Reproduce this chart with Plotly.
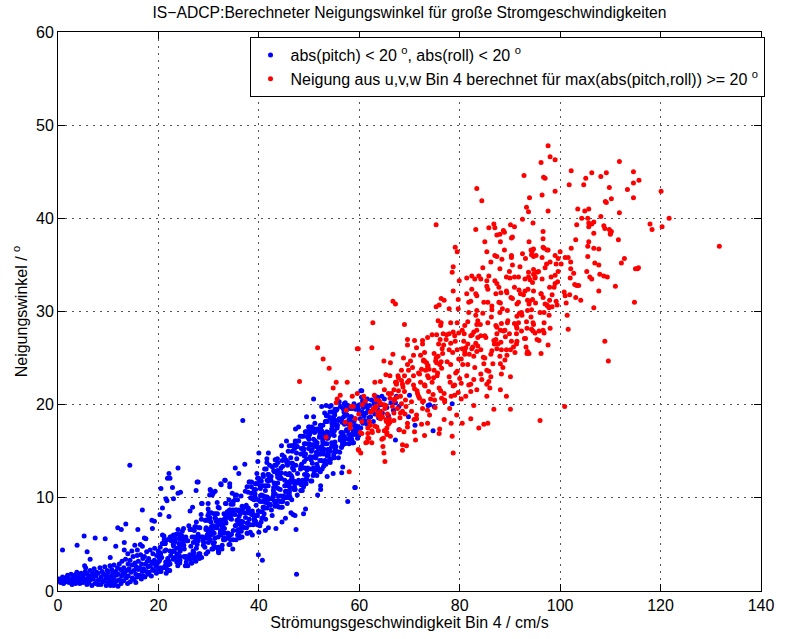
import plotly.graph_objects as go

# ---- blue: |pitch| < 20 and |roll| < 20 (main band) --------------------
blue_band_low = [
    (0.2,1.3),(0.5,0.9),(0.9,1.5),(0.7,1.1),
    (1.1,0.8),(1.3,1.4),(1.6,1.0),(1.9,1.7),(1.7,1.2),
    (2.0,1.5),(2.2,0.9),(2.5,1.2),(2.6,1.8),(2.8,0.7),(2.95,1.4),
    (3.05,1.1),(3.2,1.7),(3.5,0.8),(3.55,1.4),(3.75,2.0),(3.9,1.0),
    (4.05,1.6),(4.3,1.2),(4.35,0.8),(4.6,1.9),(4.8,1.4),(4.95,0.9),
    (5.0,1.7),(5.25,1.0),(5.45,2.1),(5.5,1.3),(5.75,0.7),(5.85,1.8),(5.95,1.2),
    (6.1,1.5),(6.15,0.9),(6.4,2.2),(6.45,1.2),(6.7,1.7),(6.75,0.6),(6.95,1.9),
    (7.0,1.3),(7.2,2.4),(7.35,0.8),(7.55,1.6),(7.7,2.0),(7.85,1.1),(7.95,0.7),
    (8.0,1.9),(8.2,1.2),(8.35,2.5),(8.55,0.7),(8.6,1.5),(8.8,2.1),(8.95,1.0),
    (9.1,1.8),(9.15,1.1),(9.3,2.6),(9.55,1.4),(9.6,0.6),(9.8,2.2),(9.85,1.6),(9.95,0.9),
    (10.0,2.0),(10.2,1.2),(10.35,2.7),(10.45,0.6),(10.65,1.6),(10.7,2.3),(10.85,1.0),(10.95,1.9),
    (11.05,1.4),(11.15,2.8),(11.35,0.8),(11.5,2.1),(11.55,1.7),(11.7,1.1),(11.85,2.5),(11.95,0.5),
    (12.0,1.8),(12.2,2.9),(12.25,1.2),(12.45,2.3),(12.55,0.8),(12.7,1.6),(12.75,3.2),(12.9,2.0),
    (13.05,1.1),(13.1,2.5),(13.3,1.8),(13.45,3.4),(13.6,1.4),(13.7,2.2),(13.85,0.8),(13.95,2.9),
    (14.0,1.6),(14.15,2.4),(14.35,3.3),(14.4,1.0),(14.55,2.0),(14.75,2.8),(14.8,1.4),(14.95,3.7),
    (15.1,2.2),(15.15,1.2),(15.35,3.0),(15.5,1.8),(15.55,2.6),(15.75,3.8),(15.8,1.5),(15.95,2.3),
    (16.0,3.2),(16.2,1.7),(16.25,2.5),(16.45,3.9),(16.6,1.3),(16.65,2.9),(16.8,2.1),(16.9,3.5),(16.95,1.6),
    (17.05,2.4),(17.2,3.7),(17.3,1.5),(17.45,2.9),(17.6,2.1),(17.65,4.2),(17.8,3.2),(17.9,1.8),(17.95,2.6),
    (18.05,3.5),(18.15,2.0),(18.35,4.4),(18.4,2.7),(18.6,1.6),(18.65,3.1),(18.85,2.3),(18.9,4.0),(18.95,3.0),
    (19.05,2.2),(19.2,3.3),(19.25,4.6),(19.45,2.7),(19.6,1.9),(19.65,3.8),(19.8,3.0),(19.85,2.4),(19.95,4.3),
]

blue_band_mid = [
    (20.15,3.2),(20.15,3.6),(20.95,2.5),(20.65,3.6),(20.35,3.6),(20.85,5.1),(20.75,5.1),(20.35,2.5),(20.35,4.7),(20.45,4.0),
    (21.25,4.3),(21.45,3.1),(21.35,5.1),(21.35,2.7),(21.75,5.5),(21.55,1.9),(21.25,5.1),(21.85,3.5),(21.15,5.5),(21.75,2.3),
    (22.65,5.8),(22.35,5.8),(22.95,3.4),(22.75,4.2),(22.15,2.2),(22.55,5.4),(22.25,2.2),(22.95,5.0),(22.45,5.8),(22.45,3.8),
    (23.55,6.1),(23.25,3.6),(23.05,5.3),(23.85,2.7),(23.65,4.0),(23.05,4.8),(23.25,5.7),(23.65,3.1),(23.05,5.7),(23.95,6.1),
    (24.85,5.1),(24.25,6.0),(24.05,3.9),(24.45,6.0),(24.25,4.7),(24.35,4.3),(24.25,3.0),(24.15,5.6),(24.05,5.1),(24.75,6.4),
    (25.85,3.6),(25.15,4.5),(25.85,2.7),(25.85,5.4),(25.55,3.1),(25.35,3.6),(25.35,2.7),(25.65,5.4),(25.45,5.8),(25.05,4.9),
    (26.05,7.0),(26.35,6.6),(26.45,4.8),(26.65,3.0),(26.95,5.2),(26.55,3.0),(26.55,6.6),(26.25,3.9),(26.35,3.4),(26.75,3.9),
    (27.55,4.6),(27.55,7.4),(27.45,3.2),(27.85,3.7),(27.25,6.9),(27.45,6.9),(27.15,3.7),(27.15,6.5),(27.45,5.5),(27.05,4.1),
    (28.85,5.4),(28.15,3.5),(28.25,6.8),(28.05,4.0),(28.95,4.9),(28.85,5.8),(28.25,4.0),(28.6,3.6),(28.55,5.8),(28.55,7.7),
    (29.65,5.7),(29.45,6.6),(29.25,4.7),(29.95,5.7),(29.85,8.1),(29.55,5.7),(29.95,5.2),(29.05,5.2),(29.85,4.2),(29.95,6.6),
    (30.45,6.0),(30.25,7.9),(30.85,4.5),(30.05,8.4),(30.75,6.4),(30.65,6.9),(30.55,8.4),(30.35,5.5),(30.48,6.3),(30.65,4.5),
    (30.2,7.6),(30.45,7.4),(30.55,6.9),
    (31.45,8.3),(31.25,5.7),(31.35,7.8),(31.85,7.3),(31.75,8.3),(31.35,4.7),(31.65,6.8),(31.25,7.8),(31.15,5.2),(31.05,4.7),
    (31.95,4.2),(31.95,4.7),(31.45,6.8),
    (32.65,6.5),(32.85,7.1),(32.65,7.6),(32.95,5.5),(32.35,6.5),(32.65,4.5),(32.3,6.2),(32.85,7.6),(32.15,4.5),(32.45,7.1),
    (32.45,6.0),(32.25,7.6),(32.7,6.9),
    (33.85,5.7),(33.15,6.2),(33.35,9.4),(33.35,7.8),(33.05,8.3),(33.25,7.8),(33.05,5.7),(33.45,9.4),(33.15,6.7),(33.2,5.5),
    (33.75,6.2),(33.75,5.7),(33.45,7.3),
    (34.85,8.7),(34.05,5.0),(34.65,8.2),(34.05,8.2),(34.35,5.5),(34.55,7.7),(34.85,9.3),(34.15,8.7),(34.45,9.3),(34.85,5.5),
    (34.55,6.1),(34.05,9.8),(34.25,5.0),
    (35.95,8.7),(35.25,9.8),(35.25,10.3),(35.25,8.2),(35.45,5.5),(35.95,6.0),(35.75,6.0),(35.55,7.1),(35.65,7.6),(35.35,8.7),
    (35.75,9.8),(35.95,6.6),(35.55,10.3),
    (36.05,7.5),(36.65,5.8),(36.05,6.4),(36.15,7.5),(36.35,5.8),(36.55,7.5),(36.05,8.6),(36.45,10.2),(36.85,6.9),(36.05,8.0),
    (36.65,9.1),(36.55,6.9),(36.2,7.2),
    (37.85,8.4),(37.15,8.4),(37.65,11.2),(37.55,6.8),(37.95,8.4),(37.15,9.0),(37.15,6.8),(37.65,6.2),(37.9,8.9),(37.35,7.9),
    (37.05,9.0),(37.75,7.3),(37.75,6.2),
    (38.35,10.0),(38.55,10.5),(38.55,11.7),(38.5,11.2),(38.15,11.7),(38.55,8.2),(38.05,11.7),(38.25,7.1),(38.85,10.0),(38.15,7.1),
    (38.75,8.2),(38.85,7.1),(38.95,8.2),
    (39.25,10.4),(39.15,7.5),(39.75,12.1),(39.35,7.5),(39.05,9.8),(39.1,7.8),(39.85,9.8),(39.45,11.5),(39.05,10.9),(39.45,9.2),
    (39.65,8.1),(39.35,10.9),(39.95,12.1),
]

blue_band_high = [
    (40.65,8.5),(40.75,9.6),(40.95,10.2),(40.65,11.3),(40.35,10.2),(40.15,11.9),(40.85,10.2),(40.75,10.2),(40.25,11.3),(40.25,9.6),
    (40.85,12.5),(40.15,8.5),(40.3,11.0),(40.95,9.0),(40.85,7.9),(40.85,9.0),(40.45,7.4),(40.6,7.8),
    (41.05,8.3),(41.15,13.1),(41.45,13.1),(41.15,8.9),(41.95,12.5),(41.35,9.5),(41.65,11.9),(41.4,9.8),(41.65,8.9),(41.45,10.1),
    (41.05,11.3),(41.55,11.3),(41.65,10.1),(41.35,7.7),(41.85,11.3),(41.05,8.9),
    (42.15,9.9),(42.95,10.5),(42.9,10.8),(42.65,9.9),(42.95,11.1),(42.25,9.3),(42.45,12.3),(42.35,12.3),(42.15,13.5),(42.05,12.3),
    (42.05,9.3),(42.2,12.0),(42.95,12.9),(42.65,8.1),(42.85,10.2),(42.4,11.9),
    (43.05,9.7),(43.75,12.9),(43.05,11.6),(43.35,14.1),(43.25,9.1),(43.75,9.1),(43.75,12.2),(43.25,14.1),(43.3,9.4),(43.7,12.5),
    (43.75,11.6),(43.25,10.4),(43.85,11.0),(43.65,12.9),(43.45,13.5),(43.15,13.5),
    (44.45,12.7),(44.75,13.4),(44.65,14.6),(44.45,9.0),(44.55,9.6),(44.35,10.2),(44.05,9.0),(44.05,12.1),(44.65,14.0),(44.15,9.6),
    (44.75,9.6),(44.45,12.1),(44.25,10.9),(44.35,12.1),(44.65,9.0),(44.85,10.2),
    (45.55,13.8),(45.85,12.5),(45.7,13.5),(45.15,11.3),(45.45,10.6),(45.75,12.5),(45.35,14.1),(45.85,15.0),(45.65,9.4),(45.95,10.0),
    (45.75,11.3),(45.6,11.6),(45.25,10.0),(45.05,14.4),(45.3,12.6),(45.15,11.9),
    (46.65,15.0),(46.45,12.4),(46.05,15.6),(46.05,10.4),(46.25,11.1),(46.45,15.6),(46.55,11.7),(46.4,11.9),(46.1,10.7),(46.5,13.7),
    (46.6,12.2),(46.95,13.0),(46.8,13.3),(46.35,14.3),(46.2,10.1),(46.55,9.8),(46.75,15.6),
    (47.25,11.6),(47.75,16.1),(47.65,15.5),(47.95,11.6),(47.55,15.5),(47.9,11.9),(47.35,13.5),(47.45,11.6),(47.05,10.9),(47.95,16.1),
    (47.55,14.2),(47.1,11.2),(47.25,10.9),(47.25,16.1),(47.0,11.8),(47.2,15.8),(47.65,10.3),
    (48.85,14.7),(48.45,10.8),(48.35,13.4),(48.45,11.4),(48.8,11.6),(48.55,16.6),(48.9,11.2),(48.35,14.7),(48.25,16.6),(48.75,15.3),
    (48.45,15.3),(48.7,11.9),(48.35,10.8),(48.95,16.6),(48.65,10.8),(48.55,11.4),(48.9,15.1),
    (49.05,15.8),(49.25,11.9),(49.15,13.2),(49.45,17.1),(49.95,17.1),(49.9,16.8),(49.85,16.5),(49.35,15.8),(49.25,17.1),(49.75,16.5),
    (49.05,13.9),(49.6,13.0),(49.55,12.0),(49.05,14.5),(49.95,15.8),(49.35,12.0),(49.75,13.2),(49.4,11.5),(49.7,12.4),
    (50.25,17.0),(50.15,15.7),(50.05,17.6),(50.65,13.7),(50.1,16.8),(50.55,17.6),(50.55,11.8),(50.25,14.4),(50.45,15.0),(50.95,14.4),
    (50.6,15.2),(50.4,14.1),(50.7,17.4),(50.0,16.3),(50.35,11.8),(50.25,15.7),(50.45,13.1),(50.8,12.4),(50.9,13.2),
    (51.55,13.6),(51.25,14.3),(51.05,17.4),(51.25,15.5),(51.35,14.3),(51.45,14.9),(51.65,17.4),(51.55,12.4),(51.4,15.8),(51.25,16.1),
    (51.15,18.0),(51.35,13.0),(51.1,17.0),(51.85,13.0),(51.7,13.3),(51.05,13.0),(51.0,12.6),
    (52.05,14.7),(52.15,14.0),(52.75,17.8),(52.3,17.5),(52.75,15.9),(52.25,17.8),(52.85,16.5),(52.5,17.2),(52.7,16.2),(52.35,14.7),
    (52.25,12.8),(52.85,14.7),(52.9,13.4),(52.45,14.0),(52.05,16.5),(52.15,16.7),(52.2,17.0),(52.6,13.1),(52.4,15.4),
    (53.75,17.0),(53.65,18.8),(53.15,15.8),(53.75,15.2),(53.05,15.2),(53.55,18.8),(53.85,14.6),(53.55,16.4),(53.45,18.8),(53.05,15.8),
    (53.25,18.2),(53.75,16.4),(53.55,15.8),(53.65,18.2),(53.7,14.8),(53.15,14.0),(53.35,13.6),(53.9,14.0),
    (54.55,19.2),(54.5,17.4),(54.25,18.6),(54.65,15.6),(54.85,18.6),(54.25,15.0),(54.5,15.9),(54.75,18.6),(54.75,16.8),(54.95,15.6),
    (54.7,17.1),(54.15,19.2),(54.55,18.0),(54.8,18.3),(54.15,18.6),(54.6,17.7),(54.35,14.2),(54.9,14.6),(54.05,15.2),
    (55.05,17.2),(55.35,15.5),(55.15,18.3),(55.15,14.9),(55.25,17.8),(55.85,14.3),(55.65,17.8),(55.15,16.0),(55.05,14.3),(55.15,19.5),
    (55.25,18.3),(55.85,18.3),(55.6,17.5),(55.2,15.2),(55.1,19.2),(55.55,19.5),
    (56.45,15.4),(56.6,15.6),(56.25,19.8),(56.55,18.1),(56.55,16.5),(56.95,19.2),(56.9,18.7),(56.25,16.5),(56.85,16.5),(56.65,17.0),
    (56.65,15.9),(56.35,17.0),(56.8,16.8),(56.2,16.2),(56.0,18.5),(56.1,14.9),(56.75,19.6),
    (57.05,17.9),(57.85,16.3),(57.45,19.4),(57.95,15.8),(57.15,18.9),(57.95,18.4),(57.9,16.8),(57.35,19.9),(57.55,18.9),(57.05,15.8),
    (57.85,17.9),(57.1,16.5),(57.75,19.9),(57.8,17.3),(57.45,17.3),
    (58.95,18.2),(58.35,16.8),(58.75,15.9),(58.15,19.6),(58.45,18.7),(58.65,15.9),(58.85,16.8),(58.25,18.7),(58.85,15.9),(58.95,20.1),
    (58.65,19.6),(58.8,17.2),(58.35,15.9),(58.85,17.8),
    (59.55,17.2),(59.45,17.7),(59.15,17.2),(59.75,16.8),(59.65,16.4),(59.95,19.4),(59.25,19.8),(59.45,16.8),(59.05,19.8),(59.65,19.8),
    (59.15,18.5),(59.25,17.7),(59.3,19.5),
    (60.05,20.0),(60.2,18.5),(60.3,17.5),(60.45,20.8),(60.55,19.2),(60.7,18.0),(60.8,19.7),(60.95,18.8),(60.35,19.0),(60.65,20.4),
    (61.05,18.3),(61.2,20.1),(61.35,19.1),(61.5,17.9),(61.6,20.6),(61.75,19.4),(61.9,18.6),(61.45,19.8),
    (62.05,19.9),(62.25,18.7),(62.45,20.5),(62.6,19.3),(62.8,18.2),(62.95,20.1),
    (63.1,19.0),(63.35,20.3),(63.6,19.6),(63.85,18.6),(63.7,20.8),
    (64.2,20.0),(64.6,19.1),(65.0,20.6),(65.5,19.7),(65.8,18.8),
    (66.3,20.2),(66.8,19.4),(67.4,20.9),(67.9,19.8),
]

# extra points filling the centre of the band
blue_band_fill = [
    (21.3,5.1),(21.5,4.4),(20.5,2.1),(21.9,3.1),(20.3,2.1),(20.3,3.4),(20.3,4.1),(21.9,2.8),
    (23.7,3.6),(23.3,5.3),(22.3,5.7),(22.1,3.2),(23.1,4.3),(22.3,4.3),(22.3,2.9),(23.7,4.6),
    (25.1,5.5),(24.9,5.2),(24.7,5.5),(25.5,3.7),(24.3,3.3),(24.3,3.7),(25.1,3.7),(24.7,5.9),
    (27.9,6.1),(27.7,5.0),(26.9,4.3),(27.1,3.5),(27.1,5.8),(27.9,5.4),(26.7,5.8),(27.9,5.8),
    (29.5,6.8),(28.1,6.8),(29.7,6.0),(28.9,5.6),(29.9,7.6),(29.3,7.6),(29.9,6.4),(29.5,7.6),
    (30.9,7.0),(31.7,7.0),(30.9,6.2),(31.1,6.2),(31.9,4.5),(31.1,8.3),(31.5,7.5),(31.9,5.8),
    (32.3,7.6),(33.3,7.6),(33.7,8.5),(33.9,5.8),(32.7,4.9),(32.1,8.9),(33.5,8.0),(33.9,6.2),
    (34.3,6.0),(35.5,8.7),(34.7,8.3),(34.3,8.7),(35.7,6.5),(34.3,7.8),(34.9,6.5),(34.9,9.6),
    (37.9,10.6),(36.5,7.3),(37.9,8.7),(37.5,9.2),(36.7,8.7),(36.3,8.3),(37.7,7.3),(36.5,6.4),
    (39.7,8.1),(39.3,11.5),(39.7,11.5),(39.1,7.6),(39.9,8.6),(39.3,10.0),(39.7,7.1),(38.7,8.6),
    (40.3,11.8),(40.5,10.3),(40.5,11.8),(41.3,10.8),(41.9,9.4),(41.9,11.8),(40.9,12.3),(41.3,9.9),
    (43.3,11.3),(42.3,9.2),(43.1,12.8),(42.5,8.7),(43.9,10.2),(43.9,9.7),(42.7,13.3),(43.7,9.7),
    (45.9,11.7),(45.7,13.9),(44.9,10.1),(45.3,10.7),(45.5,10.1),(45.7,10.7),(44.4,13.2),(44.2,12.5),
    (47.7,12.6),(47.1,15.3),(46.1,12.6),(47.1,11.6),(46.7,13.2),(46.7,13.7),(46.1,11.6),(47.5,14.8),
    (48.9,15.3),(48.3,13.1),(49.1,12.5),(49.3,14.7),(48.5,13.6),(49.9,15.3),(49.5,14.2),(49.5,12.5),
    (50.9,16.3),(50.1,17.4),(50.7,15.7),(51.2,17.2),(51.9,15.2),(51.8,15.4),(51.5,14.6),(51.6,15.9),
    (53.3,18.2),(53.0,16.9),(53.6,14.5),(53.5,17.1),(52.5,15.5),(52.1,17.1),(53.9,16.6),(52.7,15.0),(52.9,13.9),
    (54.7,16.9),(54.6,17.2),(54.9,17.9),(55.1,18.9),(55.0,16.7),(55.5,15.0),(54.7,18.4),(54.5,15.5),
    (57.5,18.9),(57.1,16.3),(57.1,15.8),(57.3,18.1),(56.9,16.3),(57.5,17.2),(56.5,18.5),(56.9,18.1),
    (59.3,17.5),(59.9,16.7),(59.8,17.6),(58.5,16.3),(58.1,17.5),(58.1,18.3),(59.9,19.9),(58.5,16.7),
]

# isolated blue points around and above the band
blue_scatter = [
    (14.3,13.5),(23.9,13.2),(22.1,12.6),(22.3,12.1),(21.8,12.1),(20.5,11.0),(22.8,11.1),(23.9,10.5),
    (27.7,11.7),(27.5,10.8),(30.4,10.8),(21.5,9.9),(21.7,9.7),(16.8,8.7),(20.8,8.9),(20.3,8.2),(22.1,8.0),
    (26.3,8.6),(26.8,9.0),(28.7,9.4),(29.9,8.8),(18.7,7.6),(19.2,7.5),(18.8,6.7),(11.9,6.8),(12.6,6.6),
    (13.5,7.2),(15.9,6.6),(5.2,5.9),(7.4,5.7),(9.4,5.6),(17.2,5.7),(17.5,5.6),(20.8,6.0),(21.1,5.9),
    (23.0,6.0),(23.9,6.6),(25.0,6.7),(26.3,6.6),(3.8,4.9),(0.9,4.4),(5.8,4.2),(11.5,4.8),(13.2,5.2),
    (15.3,4.9),(10.4,3.6),(6.4,3.4),(13.2,4.4),(13.9,4.0),(14.7,4.3),(15.8,4.4),(16.4,5.0),(16.8,4.8),
    (5.3,2.7),(5.5,2.5),(0.0,1.1),(11.1,0.6),(10.2,0.8),(15.5,0.9),
    (36.8,18.3),(50.9,20.6),(50.9,18.7),(47.3,17.4),(47.9,17.6),(49.9,17.6),(45.5,16.1),(44.5,15.6),
    (41.9,14.8),(43.7,14.2),(43.8,13.8),(41.6,13.8),(39.8,13.9),(37.2,13.6),(35.3,13.2),(36.0,12.6),
    (39.6,12.6),(41.8,12.5),(33.2,11.9),(32.4,11.5),(34.2,11.5),(30.3,10.9),(30.9,10.5),(27.9,11.7),
    (28.6,9.4),(29.9,9.4),(31.7,9.5),(31.9,9.0),(28.5,8.2),(34.7,10.5),(37.3,10.7),(38.7,9.9),
    (40.2,7.0),(41.9,6.8),(43.4,6.7),(47.4,6.6),(45.3,7.8),(46.8,8.2),(48.9,8.3),(49.3,8.8),
    (52.3,11.3),(52.3,10.9),(51.7,10.3),(57.7,9.6),(59.1,11.1),(56.5,12.7),(53.6,12.3),(54.8,12.6),
    (56.7,13.3),(54.2,13.8),(39.9,3.9),(38.3,6.3),(36.1,5.7),(34.8,4.5),(30.9,5.1),(32.0,4.1),(29.5,4.0),
    (52.5,19.8),(53.4,19.9),(54.4,19.9),(56.0,20.3),(57.0,20.1),(53.1,19.1),(54.4,18.5),(49.5,18.7),
    (40.0,14.8),(41.6,14.2),(33.3,11.9),(32.5,11.4),(34.2,11.2),(31.3,10.7),(30.2,10.3),(30.7,10.3),
    (24.4,10.6),(23.0,9.9),(35.3,7.0),(36.8,7.4),(38.1,7.7),(38.7,6.0),(40.0,6.3),(41.3,6.5),(40.7,3.3),
    (46.4,8.4),(47.2,8.1),(44.6,7.4),(47.5,1.8),
    (70.0,21.0),(78.5,20.1),(74.9,19.8),(74.0,20.0),(67.2,20.2),(69.8,18.7),(71.1,17.8),(74.7,17.2),
    (67.9,17.3),(63.2,20.9),(64.5,20.9),(60.5,21.5),(59.2,11.1),(54.1,19.8),(57.2,20.2),(60.3,21.5),
    (55.4,19.4),(73.7,19.9),(67.2,16.2),
]

# ---- red: tilt derived from u,v,w of bin 4 -----------------------------
red_high = [
    (99.0,46.3),(111.8,46.1),(102.2,45.1),(106.3,44.9),(109.2,44.9),(114.6,45.0),(105.1,44.3),(108.1,44.5),
    (115.7,44.1),(101.8,43.6),(104.7,43.6),(114.6,43.8),(99.0,42.9),(109.8,43.3),(113.4,43.1),(120.1,42.9),
    (110.2,42.1),(114.6,42.2),(109.0,41.8),(109.2,41.7),(103.5,41.0),(104.9,40.8),(105.7,41.0),(111.8,40.6),
    (104.3,40.0),(105.5,40.0),(108.1,40.2),(121.7,40.0),(106.7,39.6),(105.7,39.5),(106.3,39.4),(103.3,39.3),
    (105.7,39.1),(108.7,39.2),(108.9,38.9),(117.9,39.4),(118.3,38.8),(120.3,39.1),(109.8,38.8),(110.2,38.6),
    (110.0,38.4),(110.0,38.3),(106.7,38.4),(103.1,37.7),(111.6,37.7),(105.7,37.5),(102.2,36.8),(105.5,37.0),
    (106.7,36.8),(107.7,36.7),(100.0,36.4),(105.5,35.9),(112.8,35.7),(99.6,35.7),(101.0,35.8),(101.6,35.8),
    (99.2,35.1),(100.2,35.1),(102.1,35.3),(106.9,35.2),(107.7,35.0),(112.2,35.2),(115.0,34.6),(115.4,34.6),
    (115.6,34.7),(102.1,34.6),(99.6,34.3),(105.3,34.3),(102.7,34.1),(99.0,33.9),(107.9,34.0),(108.7,33.8),
    (109.4,33.7),(105.9,33.7),(106.3,33.5),(102.0,33.6),(99.0,33.0),(98.8,32.6),(102.9,32.9),(103.3,32.8),
    (103.7,32.8),(111.0,32.7),(107.7,32.2),(100.8,32.1),(101.0,31.7),(101.9,31.8),(103.1,31.5),(104.1,31.2),
    (99.2,31.1),(99.4,30.7),(101.2,30.9),(114.8,31.0),(106.7,30.4),(101.4,29.6),(131.7,37.0),(109.6,24.7),
    (108.9,26.8),(92.8,44.6),(97.6,47.8),(98.0,46.6),(96.2,46.0),(96.7,44.4),
]

red_mid = [
    (97.0,44.3),(83.4,43.2),(84.4,41.9),(96.4,42.5),(93.9,42.2),(93.3,41.2),(93.7,40.7),(97.6,40.8),
    (75.3,39.3),(83.2,38.8),(86.8,39.4),(87.0,39.0),(85.8,39.0),(90.1,39.3),(90.9,39.1),(92.5,39.9),
    (88.7,38.7),(88.9,38.5),(96.6,38.6),(87.4,38.2),(88.0,38.3),(90.5,38.0),(90.3,37.9),(88.1,37.5),
    (85.0,37.5),(79.1,36.9),(79.5,36.4),(85.4,36.4),(88.9,36.6),(94.7,36.7),(96.6,36.9),(97.6,36.6),
    (96.8,36.8),(94.3,36.1),(94.7,35.9),(95.2,36.0),(92.5,36.2),(90.3,36.0),(90.3,35.8),(87.4,35.9),
    (96.4,35.8),(93.1,35.7),(86.2,35.3),(98.0,35.3),(78.7,34.8),(78.5,34.2),(84.6,34.7),(88.0,34.6),
    (90.5,35.0),(94.7,34.5),(97.0,34.7),(89.9,34.3),(93.7,34.2),(95.4,34.2),(82.4,33.8),(81.4,33.6),
    (83.8,33.8),(85.8,33.8),(89.3,33.7),(90.9,33.7),(91.7,33.7),(93.7,33.7),(95.0,33.6),(96.4,33.5),
    (98.2,33.7),(79.9,33.3),(85.4,33.3),(94.5,33.1),(85.4,32.7),(85.6,32.4),(87.4,33.0),(90.9,32.6),
    (94.7,32.2),(78.7,32.2),(82.4,32.4),(81.4,31.9),(83.2,31.9),(83.4,31.7),(87.2,31.9),(89.3,32.2),
    (92.1,31.9),(92.7,31.8),(96.2,31.9),(96.6,31.5),(98.4,31.8),(76.3,31.4),(76.9,31.2),(79.7,31.3),
    (82.2,31.1),(84.8,31.0),(87.8,31.0),(90.5,31.4),(91.7,31.0),(93.9,31.1),(94.5,31.3),(97.4,30.7),
    (75.9,30.7),(75.3,30.5),(77.9,30.3),(79.7,30.3),(81.8,29.9),(83.4,30.1),(86.4,30.6),(86.4,30.2),
    (88.1,30.9),(88.0,29.9),(89.5,30.1),(91.9,29.8),(92.3,29.9),(93.5,30.1),(94.3,30.2),(96.0,29.9),
    (97.8,30.4),(97.8,29.6),(75.7,29.0),(76.3,28.8),(79.5,28.8),(81.6,28.9),(83.6,29.0),(85.6,28.8),
    (87.2,28.5),(88.3,28.7),(89.5,28.8),(90.9,28.7),(91.7,28.8),(93.3,28.9),(94.7,28.6),(96.8,28.8),
    (101.6,28.1),(76.7,27.6),(77.9,27.6),(78.7,27.8),(80.5,28.0),(80.9,27.6),(82.8,27.8),(83.4,28.0),
    (84.2,27.4),(87.4,27.6),(88.1,28.0),(88.7,27.9),(89.9,27.6),(91.3,27.6),(92.3,27.9),(95.0,27.7),
    (96.6,28.0),(96.8,27.7),(76.1,27.0),(77.3,27.0),(79.1,26.8),(81.6,26.5),(83.2,26.6),(86.8,26.9),
    (90.3,26.8),(91.3,26.5),(93.1,27.1),(95.8,26.9),(97.6,26.4),(76.5,26.0),(77.9,25.9),(79.5,25.9),
    (80.5,26.0),(81.0,25.7),(81.2,26.1),(83.4,25.7),(84.2,25.9),(86.4,25.8),(88.3,25.9),(90.1,25.9),
    (93.5,25.7),(96.2,25.5),
]

red_low = [
    (66.7,31.1),(67.2,30.8),(62.7,28.8),(69.0,28.6),(59.8,26.0),(62.5,26.1),(69.6,27.0),(71.0,26.9),
    (72.6,26.9),(69.6,26.4),(71.4,26.1),(73.6,27.2),(74.5,27.5),(70.8,25.3),(72.2,25.3),(68.8,25.0),
    (64.9,24.7),(66.7,25.4),(72.8,24.8),(73.4,24.5),(74.9,25.5),(75.7,25.2),(76.3,24.6),(65.3,23.2),
    (66.1,23.1),(63.1,22.4),(57.6,22.4),(68.4,23.7),(69.0,23.1),(70.8,23.1),(71.8,23.4),(73.6,24.1),
    (73.2,23.7),(74.9,23.7),(75.5,23.1),(67.4,22.4),(68.4,22.6),(69.6,22.4),(72.2,22.4),(73.0,22.1),
    (74.5,22.4),(66.9,21.6),(67.8,21.5),(71.0,21.7),(71.6,21.2),(73.8,21.4),(74.7,21.1),(66.1,20.7),
    (67.0,20.4),(68.2,20.9),(69.2,20.5),(72.0,20.7),(72.8,20.4),(64.3,20.1),(65.1,19.6),(63.1,19.5),
    (63.7,19.1),(67.6,19.6),(68.6,19.3),(70.4,19.3),(71.4,18.9),(73.6,19.4),(75.1,19.7),(66.9,18.3),
    (69.6,18.0),(72.4,17.9),(65.1,17.2),(65.5,16.8),(68.0,17.3),(71.0,17.1),(73.0,16.7),(61.9,16.4),
    (62.5,15.9),(68.6,15.7),(69.4,15.6),(68.6,15.1),(64.9,14.8),(65.1,13.9),(58.0,12.8),(59.9,15.1),
    (61.7,16.4),(60.5,16.9),(57.2,18.1),(58.2,17.9),(61.7,17.5),(77.9,23.0),(79.5,23.6),(78.7,22.0),
    (80.3,22.3),(76.9,21.2),(78.3,20.9),(80.3,20.6),(81.2,20.9),(82.2,22.2),(83.4,21.6),(85.4,20.9),
    (86.8,19.5),(82.2,18.5),(80.5,18.0),(76.9,18.4),(78.3,18.0),(84.8,17.9),(85.6,18.0),(83.8,17.5),
    (78.5,16.6),(75.9,16.9),(78.7,14.8),(82.8,25.2),(84.8,24.4),(86.2,25.4),(88.1,24.4),(89.3,25.9),
    (84.2,23.3),(86.2,23.0),(88.3,23.3),(90.1,23.0),(82.8,22.7),(85.4,22.2),(88.1,21.6),(89.3,20.9),
    (90.1,19.5),(48.1,22.5),(51.7,26.1),(52.8,24.9),(54.0,23.9),(54.8,21.8),(55.6,20.6),(59.6,26.0),
    (53.4,16.5),(58.4,19.8),(59.2,18.5),(58.2,17.5),(59.9,19.0),(60.5,18.2),(61.7,16.9),(61.3,15.9),
    (59.8,15.2),(60.3,14.8),(62.5,19.3),(63.3,19.8),(63.7,18.8),(64.3,19.3),(64.9,20.0),(63.1,17.7),
    (62.5,17.2),(64.7,15.5),(64.5,16.3),(65.5,17.5),(66.1,18.1),(55.4,22.4),(58.6,20.9),(60.9,20.9),
    (100.9,19.8),(96.0,18.3),
]

red_dense = [
    (62.0,18.2),(62.8,19.6),(63.5,17.6),(64.0,20.4),(64.6,18.7),(65.3,19.9),(65.8,17.9),(66.4,21.2),
    (66.9,19.1),(67.5,20.8),(68.1,18.6),(68.7,21.9),(69.3,19.8),(69.9,22.6),(70.4,20.3),(70.9,18.4),
    (71.5,21.5),(72.0,23.3),(72.6,19.6),(73.1,22.0),(73.7,24.2),(74.2,20.6),(74.8,22.9),(75.3,25.0),
    (75.9,21.8),(76.4,23.9),(77.0,20.3),(77.5,24.6),(78.1,22.4),(78.6,25.6),(79.2,23.4),(79.7,21.3),
    (80.3,24.9),(80.8,26.8),(81.4,23.1),(81.9,25.4),(82.5,27.5),(83.0,24.0),(83.6,26.3),(84.1,28.6),
    (84.7,25.1),(85.2,27.2),(85.8,23.6),(86.3,29.4),(86.9,26.5),(87.4,28.3),(88.0,25.2),(88.5,30.3),
    (89.1,27.3),(89.6,29.0),(90.2,31.5),(90.7,26.2),(91.3,28.4),(91.8,32.3),(92.4,29.6),(92.9,27.1),
    (93.5,31.2),(94.0,33.4),(94.6,28.8),(95.1,30.9),(95.7,34.3),(96.2,31.9),(96.8,29.9),(97.3,35.1),
    (97.9,32.6),(98.4,30.5),(99.0,36.0),(99.5,33.2),
    (61.2,20.4),(63.0,21.0),(64.2,19.0),(65.0,21.6),(66.0,18.5),(67.2,22.4),(68.4,20.1),(69.6,17.6),
    (70.6,24.0),(71.8,20.9),(73.0,25.6),(74.0,18.9),(75.6,23.4),(76.8,26.4),(78.0,19.6),(79.0,27.4),
    (80.0,22.8),(81.0,28.5),(82.2,21.4),(83.2,29.6),(84.4,22.7),(85.6,31.0),(86.6,24.4),(87.8,32.6),
    (89.0,24.8),(90.0,33.6),(91.0,25.6),(92.0,34.8),(93.2,26.2),(94.4,36.4),(95.4,27.0),(96.6,37.8),
    (98.0,28.2),
    (63.8,17.2),(66.2,16.6),(68.9,17.1),(71.2,16.2),(73.6,18.0),(76.0,17.4),(79.4,18.9),(82.8,19.9),
    (86.0,21.8),(58.8,19.8),(59.6,21.2),(60.6,20.0),(57.4,19.4),(56.2,21.0),(55.4,20.2),(60.2,17.0),
    (61.6,16.0),(62.6,17.0),(64.8,16.4),
    (65.0,17.2),(65.4,18.2),(65.5,17.0),(65.3,18.4),(65.6,19.0),(64.2,22.5),(62.2,19.2),(64.2,18.5),
    (63.4,19.8),(63.4,20.5),(62.2,17.8),(65.8,21.2),
    (67.8,22.9),(66.6,19.8),(68.2,19.1),(68.6,22.2),(67.0,20.6),(69.8,23.7),(69.0,21.4),(69.1,19.0),
    (67.7,23.1),(66.2,24.5),(67.4,22.2),(69.6,24.3),
    (73.8,22.9),(73.6,23.1),(73.0,22.1),(73.9,23.8),(72.6,26.5),(72.8,24.7),(72.6,20.3),(73.0,24.7),
    (70.8,22.1),(70.2,24.7),(72.4,23.8),(71.4,18.5),
    (75.4,24.5),(75.2,24.7),(75.8,26.5),(76.2,28.5),(76.0,24.3),(77.0,20.5),(75.4,27.5),(75.0,20.5),
    (77.4,27.5),(76.2,21.5),(76.4,20.7),(76.6,25.5),
    (79.8,24.9),(81.0,25.4),(78.2,28.8),(79.8,27.7),(80.6,24.3),(81.8,22.1),(81.6,24.3),(79.0,21.0),
    (78.2,24.3),(78.2,26.6),(81.8,31.0),(79.0,22.1),
    (85.4,23.7),(85.0,27.4),(82.6,26.2),(84.2,33.5),(84.6,29.8),(83.0,33.5),(82.2,27.4),(83.4,28.6),
    (85.0,25.0),(85.8,22.5),(82.4,26.0),(83.6,27.2),
    (87.0,36.0),(88.2,26.7),(88.6,24.0),(88.4,35.6),(88.2,32.0),(87.4,26.0),(89.0,28.0),(89.4,25.3),
    (87.2,27.0),(87.6,26.5),(89.4,32.0),(87.0,33.3),
    (93.8,30.8),(91.4,30.8),(93.8,25.5),(93.0,33.5),(91.4,28.2),(91.4,29.5),(93.4,28.2),(93.8,37.5),
    (93.4,25.5),(93.0,32.2),(91.4,26.8),(93.6,32.4),
    (95.0,33.7),(94.6,27.9),(94.6,39.5),(94.3,28.1),(94.7,34.0),(97.0,30.8),(97.5,30.6),(95.8,27.9),
    (97.4,36.6),(97.9,31.2),(94.2,36.6),(94.2,29.4),
]

x_ticks = [0, 20, 40, 60, 80, 100, 120, 140]
y_ticks = [0, 10, 20, 30, 40, 50, 60]

blue_pts = blue_band_low + blue_band_mid + blue_band_high + blue_band_fill + blue_scatter
red_pts = red_high + red_mid + red_low + red_dense
bx, by = zip(*blue_pts)
rx, ry = zip(*red_pts)

FONT = "Liberation Sans, Arial, Helvetica, sans-serif"

fig = go.Figure()
fig.add_trace(go.Scatter(
    x=bx, y=by, mode="markers",
    marker=dict(color="#0000ff", size=5, line=dict(width=0)),
    name="abs(pitch) < 20 <sup>o</sup>, abs(roll) < 20 <sup>o</sup>",
    legendgroup="a",
))
fig.add_trace(go.Scatter(
    x=rx, y=ry, mode="markers",
    marker=dict(color="#ff0000", size=5, line=dict(width=0)),
    name="Neigung aus u,v,w Bin 4 berechnet für max(abs(pitch,roll)) >= 20 <sup>o</sup>",
    legendgroup="b",
))

axis_common = dict(
    showline=True, linecolor="black", linewidth=1, mirror="allticks",
    ticks="inside", ticklen=7, tickcolor="black", tickwidth=1,
    showgrid=True, gridcolor="#555555", gridwidth=1, griddash="2px,5px",
    zeroline=False, tickfont=dict(family=FONT, size=16, color="black"),
)

fig.update_xaxes(range=[0, 140], tickvals=x_ticks, **axis_common,
                 title=dict(text="Strömungsgeschwindigkeit Bin 4 / cm/s",
                            font=dict(family=FONT, size=16, color="black"), standoff=2))
fig.update_yaxes(range=[0, 60], tickvals=y_ticks, **axis_common,
                 title=dict(text="Neigungswinkel / <sup>o</sup>",
                            font=dict(family=FONT, size=16, color="black"), standoff=4))

fig.update_layout(
    width=786, height=639,
    margin=dict(l=58, r=15, t=32, b=43),
    paper_bgcolor="white", plot_bgcolor="white",
    font=dict(family=FONT, size=16, color="black"),
    title=dict(text="IS−ADCP:Berechneter Neigungswinkel für große Stromgeschwindigkeiten",
               x=0.5, xanchor="center", xref="paper", y=1 - 13 / 639, yanchor="middle",
               yref="container", font=dict(family=FONT, size=15.7, color="black")),
    legend=dict(x=1.005, y=0.991, xanchor="right", yanchor="top",
                bgcolor="white", bordercolor="black", borderwidth=1,
                font=dict(family=FONT, size=16, color="black"),
                tracegroupgap=0, itemwidth=30),
    showlegend=True,
)

fig.write_html("out.html")
